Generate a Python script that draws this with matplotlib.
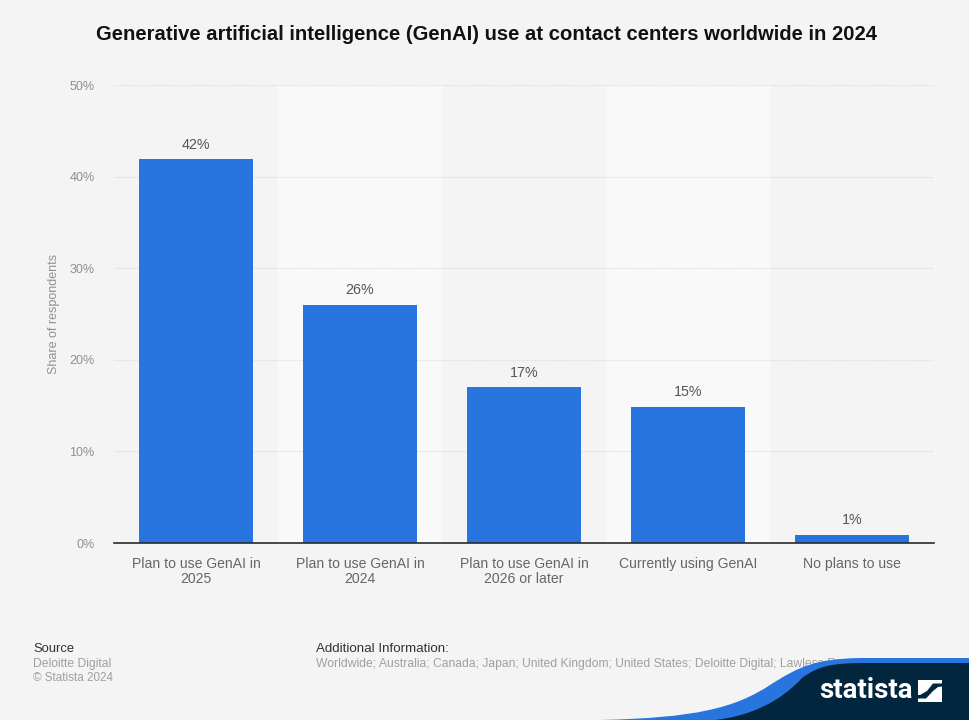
import matplotlib
matplotlib.use("Agg")
import matplotlib.pyplot as plt
from matplotlib.patches import PathPatch, Polygon
from matplotlib.path import Path

plt.rcParams['font.family'] = ['Liberation Sans', 'DejaVu Sans']

categories = ["Plan to use GenAI in\n2025", "Plan to use GenAI in\n2024",
              "Plan to use GenAI in\n2026 or later", "Currently using GenAI", "No plans to use"]
values = [41.9, 26, 17, 14.9, 0.9]
value_labels = ["42%", "26%", "17%", "15%", "1%"]
yticks = [0, 10, 20, 30, 40, 50]
ytick_labels = ["0%", "10%", "20%", "30%", "40%", "50%"]
title = "Generative artificial intelligence (GenAI) use at contact centers worldwide in 2024"

W, H = 970, 720
BG = "#f4f4f4"
fig = plt.figure(figsize=(W/100, H/100), dpi=100, facecolor=BG)
L, R, T, B = 114, 934, 85, 543
ax = fig.add_axes([L/W, 1-B/H, (R-L)/W, (B-T)/H], facecolor="none")
x = list(range(len(categories)))
ax.set_xlim(-0.5, 4.5)
ax.set_ylim(0, 50)

for i in (1, 3):
    ax.axvspan(i-0.5, i+0.5, color="#f9f9f9", lw=0, zorder=0)
for t in yticks[1:]:
    ax.axhline(t, color="#dcdcdc", lw=0.9, ls=(0, (1, 1)), zorder=1)

ax.bar(x, values, width=0.69, color="#2975df", zorder=3)
for xi, v, lab in zip(x, values, value_labels):
    ax.annotate(lab, (xi, v), xytext=(0, 7.5), textcoords="offset pixels",
                ha="center", va="bottom", fontsize=10.3, color="#555555", zorder=4)

for s in ("top", "right", "left"):
    ax.spines[s].set_visible(False)
ax.spines["bottom"].set_color("#2b2b2b")
ax.spines["bottom"].set_linewidth(1.2)
ax.spines["bottom"].set_zorder(5)

ax.set_xticks(x)
ax.set_xticklabels(categories, fontsize=10.1, color="#666666", linespacing=1.12)
ax.tick_params(axis="x", length=0, pad=9.8)
ax.set_yticks(yticks)
ax.set_yticklabels(ytick_labels, fontsize=9, color="#8f8f8f")
ax.tick_params(axis="y", length=0, pad=14)
fig.text(54/W, 1-314/H, "Share of respondents", rotation=90, ha="center", va="center",
         fontsize=9, color="#909090")

fig.text(486.5/W, 1-35/H, title, ha="center", va="center", fontsize=14.6,
         fontweight="bold", color="#111111")

def ft(px, py, s, **kw):
    return fig.text(px/W, 1-py/H, s, ha="left", va="center", **kw)
ft(33, 648.5, "Source", fontsize=9.4, color="#333333")
ft(33, 664, "Deloitte Digital", fontsize=8.7, color="#a0a0a0")
ft(33, 678, "© Statista 2024", fontsize=8.4, color="#a0a0a0")
ft(316, 648.5, "Additional Information:", fontsize=9.6, color="#333333")
ft(316, 664, "Worldwide; Australia; Canada; Japan; United Kingdom; United States; Deloitte Digital; Lawless Research",
   fontsize=8.75, color="#a0a0a0")

# footer swoosh drawn in pixel coordinates
overlay = fig.add_axes([0, 0, 1, 1], facecolor="none")
overlay.set_xlim(0, W); overlay.set_ylim(H, 0); overlay.axis("off")
overlay.set_zorder(10)
C4 = Path.CURVE4
overlay.add_patch(PathPatch(Path(
    [(600, 720), (695, 718), (735, 708), (770, 685), (800, 666), (815, 659), (860, 658),
     (970, 658), (970, 720), (600, 720)],
    [Path.MOVETO, C4, C4, C4, C4, C4, C4, Path.LINETO, Path.LINETO, Path.CLOSEPOLY]),
    fc="#2975df", ec="none"))
overlay.add_patch(PathPatch(Path(
    [(715, 720), (750, 716), (780, 702), (802, 678), (818, 666), (832, 663), (865, 663),
     (970, 663), (970, 720), (715, 720)],
    [Path.MOVETO, C4, C4, C4, C4, C4, C4, Path.LINETO, Path.LINETO, Path.CLOSEPOLY]),
    fc="#03263f", ec="none"))

overlay.text(866, 690.5, "statista", ha="center", va="center", fontsize=20,
             fontweight="bold", color="white", family=["Roboto", "DejaVu Sans"])
overlay.add_patch(Polygon([(918, 680), (942, 680), (942, 683.5), (933, 683.5), (927, 691), (920, 695), (918, 695)],
                          fc="white", ec="none"))
overlay.add_patch(Polygon([(942, 702), (918, 702), (918, 698.5), (926, 698.5), (933, 691), (938, 687), (942, 686.5)],
                          fc="white", ec="none"))
fig.savefig("out.png", dpi=100, facecolor=BG)
